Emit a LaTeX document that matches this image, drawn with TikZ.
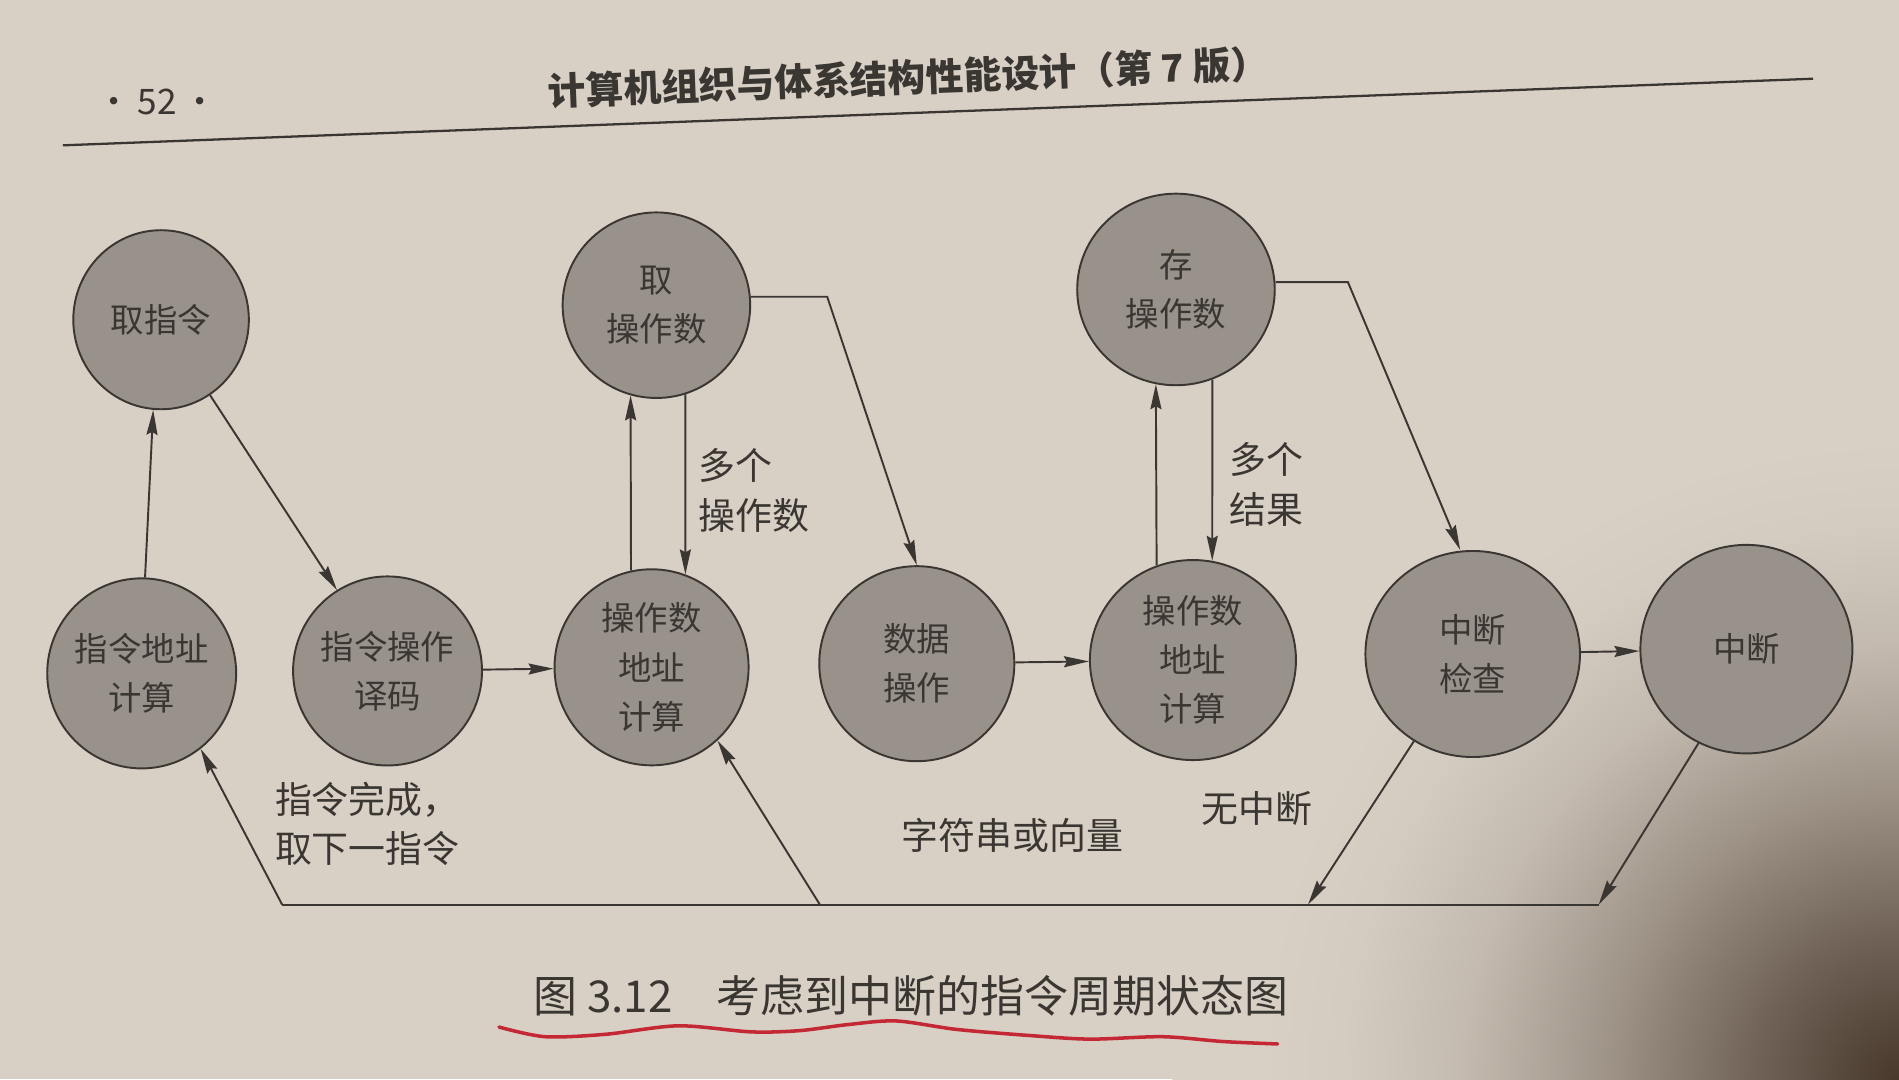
\documentclass[tikz,border=0pt]{standalone}
\usepackage{fontspec}
\setmainfont{Noto Sans CJK SC}
\usepackage{tikz}
\usetikzlibrary{shapes,arrows.meta}
\definecolor{paper}{RGB}{216,208,197}
\definecolor{papershadow}{RGB}{72,56,44}
\definecolor{statefill}{RGB}{152,146,138}
\definecolor{ink}{RGB}{58,54,50}
\definecolor{pen}{RGB}{196,40,52}
\colorlet{shadowA}{papershadow!72!paper}
\colorlet{shadowB}{papershadow!40!paper}
\colorlet{shadowC}{papershadow!14!paper}
\colorlet{shadowD}{papershadow!3!paper}
\pgfdeclareradialshading{pageshadow}{\pgfpoint{0bp}{0bp}}{color(0bp)=(papershadow); color(5bp)=(shadowA); color(10bp)=(shadowB); color(15bp)=(shadowC); color(19bp)=(shadowD); color(22bp)=(paper); color(50bp)=(paper)}

\begin{document}
\begin{tikzpicture}[x=0.024222cm, y=-0.024222cm,
    state/.style={ellipse, draw=ink, line width=1.1pt, fill=statefill, text=ink, inner sep=0, align=center, font=\fontsize{19}{28}\selectfont},
    edge/.style={draw=ink, line width=1.1pt},
    lbl/.style={text=ink, align=left, font=\fontsize{21}{28}\selectfont},
    >={Stealth[length=5mm,width=2.2mm,inset=0.6mm]}]
            \begin{scope}
              \clip (0,0) rectangle (1568,891);
              \fill[paper] (0,0) rectangle (1568,891);
              \shade[shading=pageshadow] (968,291) rectangle (2168,1491);
            \end{scope}
            \useasboundingbox (0,0) rectangle (1568,891);
            % page head
            \node[text=ink, font=\fontsize{20}{24}\selectfont] (pg) at (130,84) {•\,52\,•};
            \node[text=ink, font=\bfseries\fontsize{21.5}{26}\selectfont, rotate=2.2] (title) at (750,64) {计算机组织与体系结构性能设计（第 7 版）};
            \draw[ink, line width=1.3pt] (52,120) -- (1497,65);
            % states
            \node[state, minimum width=3.51cm, minimum height=3.58cm] (ifetch) at (133,264) {取指令};
            \node[state, minimum width=3.63cm, minimum height=3.80cm] (iaddr) at (117,556) {指令地址\\计算};
            \node[state, minimum width=3.75cm, minimum height=3.78cm] (idec) at (320,554) {指令操作\\译码};
            \node[state, minimum width=3.75cm, minimum height=3.71cm] (ofetch) at (542,252) {取\\操作数};
            \node[state, minimum width=3.88cm, minimum height=3.92cm] (oaddr1) at (538,551) {操作数\\地址\\计算};
            \node[state, minimum width=3.90cm, minimum height=3.90cm] (dop) at (757,548) {数据\\操作};
            \node[state, minimum width=3.95cm, minimum height=3.83cm] (ostore) at (971,239) {存\\操作数};
            \node[state, minimum width=4.12cm, minimum height=4.00cm] (oaddr2) at (985,545) {操作数\\地址\\计算};
            \node[state, minimum width=4.29cm, minimum height=4.12cm] (icheck) at (1216,540) {中断\\检查};
            \node[state, minimum width=4.24cm, minimum height=4.17cm] (intr) at (1442,536) {中断};
            % bends and the return line
            \coordinate (k1) at (683,245);
            \coordinate (k2) at (1113,233);
            \coordinate (b1) at (233,747);
            \coordinate (b2) at (677,747);
            \coordinate (b3) at (1080,747);
            \coordinate (b4) at (1320,747);
            \draw[edge,->] (iaddr.88) -- (ifetch.265);
            \draw[edge,->] (ifetch.303) -- (idec.122);
            \draw[edge,->] (idec) -- (oaddr1);
            \draw[edge,->] (oaddr1.102) -- (ofetch.254);
            \draw[edge,->] (ofetch.288) -- (oaddr1.70);
            \draw[edge,->] (ofetch.east |- k1) -- (k1) -- (dop.north);
            \draw[edge,->] (dop) -- (oaddr2);
            \draw[edge,->] (oaddr2.111) -- (ostore.258);
            \draw[edge,->] (ostore.292) -- (oaddr2.79);
            \draw[edge,->] (ostore.east |- k2) -- (k2) -- ([xshift=-0.25cm]icheck.north);
            \draw[edge,->] (icheck) -- (intr);
            \draw[edge,->] (icheck.236) -- (b3);
            \draw[edge,->] (intr.243) -- (b4);
            \draw[edge] (b1) -- (b4);
            \draw[edge,->] (b1) -- (iaddr.308);
            \draw[edge,->] (b2) -- (oaddr1.312);
            % edge labels
            \node[lbl, anchor=west] (l1) at (572,405) {多个\\操作数};
            \node[lbl, anchor=west] (l2) at (1010,400) {多个\\结果};
            \node[lbl, anchor=west] (l3) at (222,680) {指令完成，\\取下一指令};
            \node[lbl] (l4) at (836,690) {字符串或向量};
            \node[lbl] (l5) at (1038,668) {无中断};
            % caption
            \node[text=ink, font=\fontsize{25}{30}\selectfont] (cap) at (752,822) {图 3.12\quad 考虑到中断的指令周期状态图};
            \draw[pen, line width=2pt, line cap=round] plot[smooth] coordinates {(412,848) (450,856) (500,854) (560,847) (620,852) (660,851) (700,846) (740,843) (790,850) (850,855) (900,858) (960,856) (1010,860) (1055,862)};
        \end{tikzpicture}
\end{document}
